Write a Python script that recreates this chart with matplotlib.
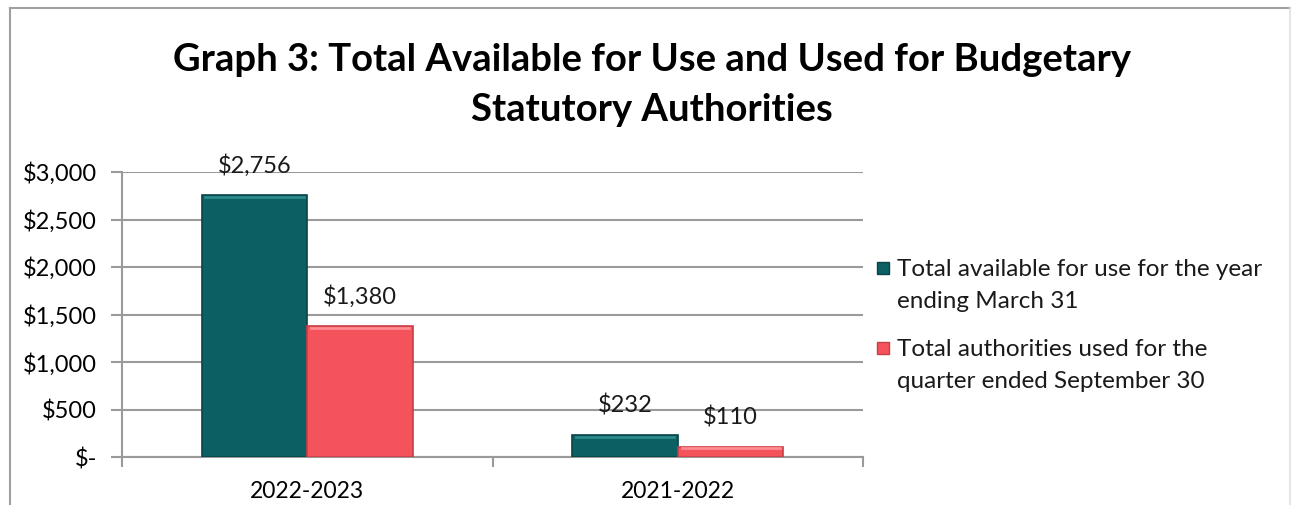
import matplotlib
matplotlib.use('Agg')
import matplotlib.pyplot as plt
from matplotlib.lines import Line2D
from matplotlib.patches import Rectangle
import numpy as np

plt.rcParams['font.family'] = ['Lato', 'DejaVu Sans']

# data (in $ millions)
years = ['2022-2023', '2021-2022']
available = [2756, 232]
used = [1380, 110]
series_names = ['Total available for use for the year\nending March 31',
                'Total authorities used for the\nquarter ended September 30']
yticks = [0, 500, 1000, 1500, 2000, 2500, 3000]
ytick_labels = ['$-', '$500', '$1,000', '$1,500', '$2,000', '$2,500', '$3,000']

teal = '#0C5F62'
red = '#F5535B'
grid_gray = '#9A9A9A'

fig = plt.figure(figsize=(12.94, 5.05), dpi=100)
ax = fig.add_axes([0.0943, 0.095, 0.5727, 0.5644])

x = np.arange(len(years))
w = 0.285
b1 = ax.bar(x - w / 2, available, w, color=teal, edgecolor='#084548', linewidth=1.2, zorder=3)
b2 = ax.bar(x + w / 2, used, w, color=red, edgecolor='#C93E45', linewidth=1.2, zorder=3)

# light bevel on top of each bar
for bars, hi in ((b1, '#2E8A8D'), (b2, '#FF8A90')):
    for r in bars:
        ax.plot([r.get_x() + 0.01, r.get_x() + r.get_width() - 0.01],
                [r.get_height() - 20, r.get_height() - 20], color=hi, lw=2, zorder=4)

for bars, vals in ((b1, available), (b2, used)):
    for r, v in zip(bars, vals):
        ax.annotate('${:,}'.format(v), (r.get_x() + r.get_width() / 2, v),
                    xytext=(0, 13), textcoords='offset points',
                    ha='center', va='bottom', fontsize=17, color='#1a1a1a')

ax.set_xlim(-0.5, 1.5)
ax.set_ylim(0, 3000)
ax.set_yticks(yticks)
ax.set_yticklabels(ytick_labels, fontsize=17)
ax.set_xticks([-0.5, 0.5, 1.5])
ax.set_xticklabels([])
ax.set_xticks(x, minor=True)
ax.set_xticklabels(years, minor=True, fontsize=16.5)
ax.tick_params(axis='x', which='minor', length=0, pad=17)
ax.tick_params(axis='x', which='major', length=7, width=1.5, color=grid_gray)
ax.tick_params(axis='y', length=8, width=1.5, color=grid_gray, pad=10)

ax.yaxis.grid(True, color=grid_gray, linewidth=1.5, zorder=0)
ax.set_axisbelow(True)
for s in ('top', 'right'):
    ax.spines[s].set_visible(False)
for s in ('left', 'bottom'):
    ax.spines[s].set_color(grid_gray)
    ax.spines[s].set_linewidth(1.5)

# legend drawn by hand so the marker sits beside the first line, as in Excel
W, H = 1294.0, 505.0
leg_items = [(teal, '#084548', 268), (red, '#C93E45', 348)]
for (fc, ec, ytop), name in zip(leg_items, series_names):
    fig.add_artist(Rectangle((877 / W, 1 - (ytop + 6) / H), 12 / W, 12 / H,
                             facecolor=fc, edgecolor=ec, lw=1, transform=fig.transFigure))
    for i, line in enumerate(name.split('\n')):
        fig.text(897 / W, 1 - (ytop + 32 * i) / H, line, fontsize=17.5,
                 ha='left', va='center_baseline', color='#1a1a1a')

fig.text(0.504, 0.882, 'Graph 3: Total Available for Use and Used for Budgetary',
         ha='center', va='center', fontsize=27.5, fontweight='bold')
fig.text(0.504, 0.783, 'Statutory Authorities',
         ha='center', va='center', fontsize=27.5, fontweight='bold')

# outer frame of the chart
fig.add_artist(Line2D([0.0077, 0.0077], [0.0, 0.984], color='#A0A0A0', lw=1.5))
fig.add_artist(Line2D([0.0077, 0.997], [0.984, 0.984], color='#A0A0A0', lw=1.5))
fig.add_artist(Line2D([0.997, 0.997], [0.0, 0.984], color='#E0E0E0', lw=1.2))

fig.savefig('out.png', dpi=100)
